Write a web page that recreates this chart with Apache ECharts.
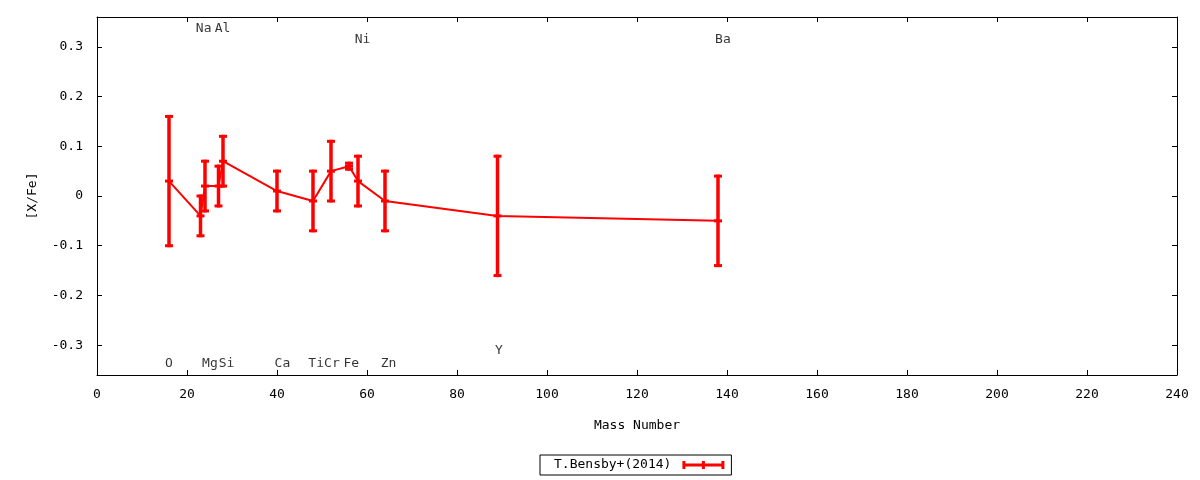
<!DOCTYPE html>
<html>
<head>
<meta charset="utf-8">
<script src="https://cdn.jsdelivr.net/npm/echarts@6/dist/echarts.min.js"></script>
<style>html,body{margin:0;padding:0;background:#fff}#chart{width:1200px;height:480px}</style>
</head>
<body>
<div id="chart"></div>
<script>
// ---- data ----
const elements   = ['O','Na','Mg','Al','Si','Ca','Ti','Cr','Fe','Ni','Zn','Y','Ba'];
const massNumber = [16, 23, 24, 27, 28, 40, 48, 52, 56, 58, 64, 89, 138];
const xFe        = [0.03,-0.04,0.02,0.02,0.07,0.01,-0.01,0.05,0.06,0.03,-0.01,-0.04,-0.05];
const xFeErr     = [0.13,0.04,0.05,0.04,0.05,0.04,0.06,0.06,0.006,0.05,0.06,0.12,0.09];
// element name labels (x, y in data units)
const labelX     = [16, 23.7, 25.1, 27.9, 28.8, 41.2, 48.7, 52.2, 56.5, 59.0, 64.8, 89.3, 139.1];
const labelY     = [-0.338, 0.336, -0.338, 0.336, -0.338, -0.338, -0.338, -0.338, -0.338, 0.314, -0.338, -0.311, 0.314];
const seriesName = 'T.Bensby+(2014)';
const xTitle = 'Mass Number';
const yTitle = '[X/Fe]';

const FONT = 'DejaVu Sans Mono';
const RED = '#ff0000';

const lineData = massNumber.map((m, i) => [m, xFe[i]]);
const errData = massNumber.map((m, i) => [m, xFe[i], xFeErr[i]]);
const labelData = elements.map((e, i) => ({ name: e, value: [labelX[i], labelY[i]] }));

const chart = echarts.init(document.getElementById('chart'), null, { renderer: 'canvas' });

const axisCommon = {
  axisLine: { show: true, onZero: false, lineStyle: { color: '#000', width: 1 } },
  axisTick: { show: true, inside: true, length: 5, lineStyle: { color: '#000', width: 1 } },
  splitLine: { show: false }
};

chart.setOption({
  animation: false,
  backgroundColor: '#fff',
  grid: { left: 97, right: 23, top: 17, bottom: 105, containLabel: false },
  xAxis: [
    Object.assign({
      type: 'value', min: 0, max: 240, interval: 20, position: 'bottom',
      name: xTitle, nameLocation: 'middle', nameGap: 44,
      nameTextStyle: { fontFamily: FONT, fontSize: 13, color: '#000' },
      axisLabel: { margin: 13, fontFamily: FONT, fontSize: 13, color: '#000' }
    }, axisCommon),
    Object.assign({
      type: 'value', min: 0, max: 240, interval: 20, position: 'top',
      axisLabel: { show: false }
    }, axisCommon)
  ],
  yAxis: [
    Object.assign({
      type: 'value', min: -0.36, max: 0.36, splitNumber: 7, position: 'left',
      name: yTitle, nameLocation: 'middle', nameGap: 58, nameRotate: 90,
      nameTextStyle: { fontFamily: FONT, fontSize: 13, color: '#000' },
      axisLabel: { margin: 14, fontFamily: FONT, fontSize: 13, color: '#000',
        showMinLabel: false, showMaxLabel: false,
        formatter: v => (Math.abs(v) < 1e-9 ? '0' : String(Math.round(v * 10) / 10)) }
    }, axisCommon),
    Object.assign({
      type: 'value', min: -0.36, max: 0.36, splitNumber: 7, position: 'right',
      axisLabel: { show: false }
    }, axisCommon)
  ],
  legend: {
    data: [{ name: seriesName, icon: 'path://M0 0H3V2.5H19.5V0H22.5V2.5H39V0H42V8H39V5.5H22.5V8H19.5V5.5H3V8H0Z' }],
    left: 540, top: 455, orient: 'horizontal', align: 'right',
    itemWidth: 42, itemHeight: 8,
    padding: [2, 7, 2, 14],
    borderColor: '#000', borderWidth: 1, borderRadius: 0,
    itemStyle: { color: RED, borderWidth: 0 },
    textStyle: { fontFamily: FONT, fontSize: 13, color: '#000', lineHeight: 16, padding: [0, 6, 0, 0] },
    selectedMode: false
  },
  series: [
    {
      name: seriesName, type: 'line', data: lineData,
      xAxisIndex: 0, yAxisIndex: 0,
      showSymbol: false, symbol: 'none',
      lineStyle: { color: RED, width: 2 }, itemStyle: { color: RED },
      z: 2
    },
    {
      name: seriesName, type: 'custom', data: errData,
      xAxisIndex: 0, yAxisIndex: 0,
      itemStyle: { color: RED },
      encode: { x: 0, y: 1 },
      z: 3,
      renderItem: function (params, api) {
        const x = api.value(0), y = api.value(1), e = api.value(2);
        const c = api.coord([x, y]);
        const hi = api.coord([x, y + e]);
        const lo = api.coord([x, y - e]);
        const hw = 4;
        const st = { stroke: RED, lineWidth: 3 };
        return {
          type: 'group',
          children: [
            { type: 'line', shape: { x1: c[0], y1: hi[1] - 1.5, x2: c[0], y2: lo[1] + 1.5 }, style: { stroke: RED, lineWidth: 3.5 } },
            { type: 'line', shape: { x1: c[0] - hw, y1: hi[1], x2: c[0] + hw, y2: hi[1] }, style: st },
            { type: 'line', shape: { x1: c[0] - hw, y1: lo[1], x2: c[0] + hw, y2: lo[1] }, style: st },
            { type: 'line', shape: { x1: c[0] - hw, y1: c[1], x2: c[0] + hw, y2: c[1] }, style: st }
          ]
        };
      }
    },
    {
      name: 'labels', type: 'scatter', data: labelData,
      xAxisIndex: 0, yAxisIndex: 0,
      symbol: 'circle', symbolSize: 1, silent: true,
      itemStyle: { color: 'rgba(0,0,0,0)' },
      label: {
        show: true, position: 'inside', formatter: p => p.name,
        fontFamily: FONT, fontSize: 13, color: '#000', align: 'center', verticalAlign: 'middle'
      },
      labelLayout: { hideOverlap: false }
    }
  ]
});
</script>
</body>
</html>
